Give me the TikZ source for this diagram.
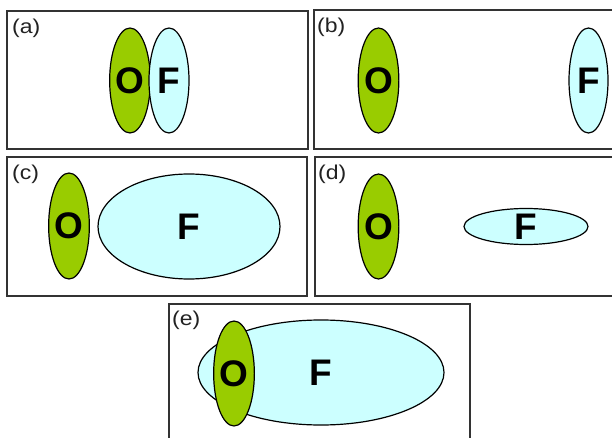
\documentclass[tikz,border=0pt]{standalone}
\usepackage{fontspec}
\setmainfont{Liberation Sans}
\usetikzlibrary{shapes.geometric}
\definecolor{ogreen}{HTML}{99CC00}
\definecolor{fcyan}{HTML}{CCFFFF}
\definecolor{framegray}{HTML}{333333}
\definecolor{lbltext}{HTML}{222222}
\newcommand{\plbl}[1]{\scalebox{1.15}[1]{#1}}
\begin{document}
\begin{tikzpicture}[x=1pt,y=-1pt,
  panel/.style={draw=framegray,line width=1.5pt},
  lbl/.style={anchor=north west,inner sep=0pt,font=\fontsize{20}{20}\selectfont,text=lbltext},
  oell/.style={ellipse,draw=black,line width=1.2pt,fill=ogreen,inner sep=0pt,font=\fontsize{37}{37}\selectfont\bfseries},
  fell/.style={ellipse,draw=black,line width=1.2pt,fill=fcyan,inner sep=0pt,font=\fontsize{37}{37}\selectfont\bfseries}]
\useasboundingbox (0,0) rectangle (612,438);
% (a)
\draw[panel] (7,11) rectangle (308,149);
\node[lbl] (la) at (12,18.5) {\plbl{(a)}};
\node[oell,minimum width=38pt,minimum height=105pt] (oa) at (130,80.5) {O};
\node[fell,minimum width=40pt,minimum height=105pt] (fa) at (169,80.5) {F};
% (b)
\draw[panel] (314,10) rectangle (616,149);
\node[lbl] (lb) at (317,17.5) {\plbl{(b)}};
\node[oell,minimum width=39pt,minimum height=105pt] (ob) at (378.5,80.5) {O};
\node[fell,minimum width=39pt,minimum height=105pt] (fb) at (588.5,80.5) {F};
% (c)
\draw[panel] (7,157) rectangle (307,296);
\node[lbl] (lc) at (12,164.5) {\plbl{(c)}};
\node[oell,minimum width=38pt,minimum height=106pt] (oc) at (69,226) {O};
\node[fell,minimum width=182pt,minimum height=105pt] (fc) at (189,226.5) {F};
% (d)
\draw[panel] (315,157) rectangle (616,296);
\node[lbl] (ld) at (318,164.5) {\plbl{(d)}};
\node[oell,minimum width=39pt,minimum height=105pt] (od) at (378.5,226.5) {O};
\node[fell,minimum width=124pt,minimum height=33pt] (fd) at (526,226.5) {F};
% (e)
\draw[panel] (169,304) rectangle (470,442);
\node[lbl] (le) at (172,310.5) {\plbl{(e)}};
\node[fell,minimum width=246pt,minimum height=105pt] (fe) at (321,372.5) {F};
\node[oell,minimum width=38pt,minimum height=105pt] (oe) at (234,373.5) {O};
\end{tikzpicture}
\end{document}
